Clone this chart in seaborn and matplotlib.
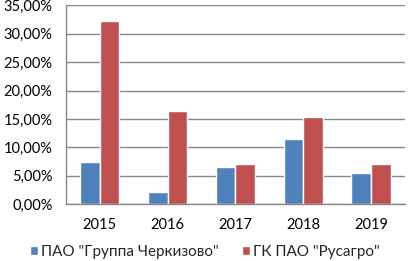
import matplotlib
matplotlib.use("Agg")
import matplotlib.pyplot as plt
import seaborn as sns
import pandas as pd
from matplotlib.ticker import FixedLocator, FuncFormatter

years = ["2015", "2016", "2017", "2018", "2019"]
cherkizovo = [7.5, 2.2, 6.45, 11.55, 5.5]
rusagro = [32.3, 16.4, 7.0, 15.3, 7.0]
series_names = ['ПАО "Группа Черкизово"', 'ГК ПАО "Русагро"']
yticks = [0, 5, 10, 15, 20, 25, 30, 35]

df = pd.DataFrame({
    "year": years * 2,
    "value": cherkizovo + rusagro,
    "company": [series_names[0]] * len(years) + [series_names[1]] * len(years),
})

sns.set_style("white")
plt.rcParams["font.family"] = ["Lato", "DejaVu Sans"]

fig = plt.figure(figsize=(4.09, 2.61), dpi=100)
ax = fig.add_axes([0.161, 0.218, 0.829, 0.761])

sns.barplot(data=df, x="year", y="value", hue="company", order=years,
            hue_order=series_names, palette=["#4F81BD", "#C0504D"],
            width=0.58, saturation=1, ax=ax, legend=True)

ax.set_ylim(0, 35)
ax.set_xlim(-0.5, len(years) - 0.5)
ax.set_yticks(yticks)
ax.yaxis.set_major_formatter(FuncFormatter(lambda v, p: f"{v:.2f}%".replace(".", ",")))
ax.grid(axis="y", color="#878787", linewidth=1.0)
ax.set_axisbelow(True)
for s in ["top", "right"]:
    ax.spines[s].set_visible(False)
for s in ["left", "bottom"]:
    ax.spines[s].set_color("#878787")
    ax.spines[s].set_linewidth(1.0)

ax.set_xlabel("")
ax.set_ylabel("")
ax.tick_params(axis="y", length=4.5, width=1, color="#878787", direction="out",
               labelsize=10.5, pad=5, labelcolor="black")
ax.tick_params(axis="x", which="major", length=0, labelsize=10.5, pad=10, labelcolor="black")
ax.xaxis.set_minor_locator(FixedLocator([i - 0.5 for i in range(len(years) + 1)]))
ax.tick_params(axis="x", which="minor", length=4.5, width=1, color="#878787", direction="out")

handles, labels = ax.get_legend_handles_labels()
ax.get_legend().remove()
fig.legend(handles, labels, loc="center", bbox_to_anchor=(0.501, 0.036),
           ncol=2, frameon=False, fontsize=11, handlelength=0.55, handleheight=0.55,
           handletextpad=0.2, columnspacing=1.5, borderaxespad=0, borderpad=0)

fig.savefig("out.png", dpi=100)
